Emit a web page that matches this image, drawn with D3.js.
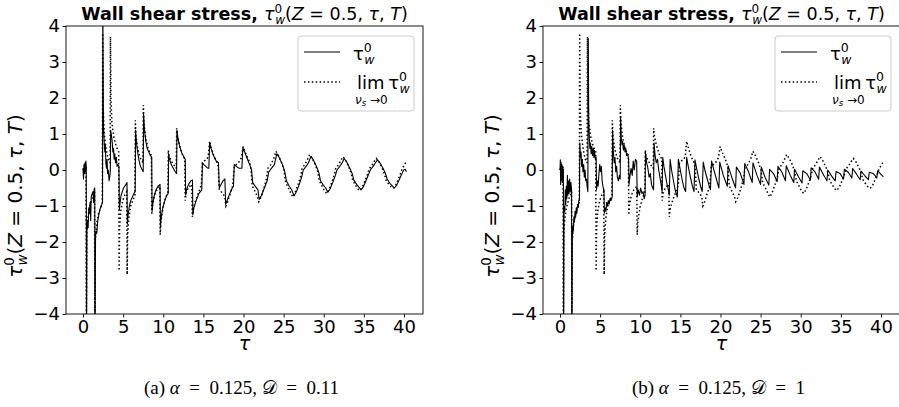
<!DOCTYPE html>
<html><head><meta charset="utf-8">
<script src="https://cdn.jsdelivr.net/npm/d3@7"></script>
<style>
body{margin:0;background:#fff}
</style></head><body>
<svg id="fig" width="899" height="407" font-family="DejaVu Sans, sans-serif"></svg>
<script>
// tick values
const tauTicks = [0, 5, 10, 15, 20, 25, 30, 35, 40];
const stressTicks = [-4, -3, -2, -1, 0, 1, 2, 3, 4];

// lim nu_s->0 tau_w^0 (same curve in both panels), [tau, value]
const limitSeries = [
  [0.00,0.00],[0.12,0.08],[0.25,-0.05],[0.38,0.10],[0.42,-4.6],
  [0.47,-1.75],[0.60,-1.35],[0.80,-1.05],[1.10,-0.8],[1.44,-0.6],[1.48,-4.6],
  [1.53,-1.95],[1.70,-1.5],[1.95,-1.2],[2.20,-1.05],[2.41,-0.95],[2.45,3.8],
  [2.52,1.7],[2.65,1.0],[2.90,0.55],[3.15,0.3],[3.38,0.2],[3.42,3.7],
  [3.48,2.0],[3.60,1.3],[3.85,0.9],[4.15,0.65],[4.45,0.5],[4.50,-2.8],
  [4.56,-1.6],[4.70,-1.15],[4.95,-0.85],[5.20,-0.7],[5.45,-0.6],[5.50,-2.9],
  [5.56,-1.8],[5.70,-1.35],[5.95,-1.0],[6.20,-0.85],[6.47,-0.7],[6.52,1.38],
  [6.60,0.95],[6.80,0.6],[7.10,0.35],[7.47,0.2],[7.52,1.8],
  [7.60,1.3],[7.80,0.9],[8.10,0.6],[8.52,0.4],[8.57,-1.25],
  [8.66,-0.95],[8.90,-0.7],[9.20,-0.55],[9.57,-0.45],[9.62,-1.8],
  [9.70,-1.45],[9.95,-1.05],[10.25,-0.8],[10.58,-0.6],[10.63,0.55],
  [10.72,0.4],[11.00,0.25],[11.30,0.15],[11.62,0.05],[11.67,1.16],
  [11.76,0.95],[12.00,0.7],[12.35,0.45],[12.68,0.3],[12.73,-0.85],
  [12.85,-0.65],[13.10,-0.5],[13.55,-0.4],[13.62,-1.3],
  [13.75,-1.05],[14.10,-0.8],[14.45,-0.6],[14.75,-0.4],[14.88,0.2],
  [15.10,0.25],[15.45,0.3],[15.62,0.4],[15.78,0.80],
  [15.95,0.65],[16.30,0.4],[16.70,0.2],[16.85,0.1],[16.98,-0.55],
  [17.20,-0.6],[17.55,-0.7],[17.70,-0.8],[17.80,-1.0],
  [18.00,-0.9],[18.35,-0.65],[18.65,-0.45],[18.85,0.1],
  [19.10,0.15],[19.55,0.25],[19.75,0.35],[19.95,0.65],
  [20.20,0.5],[20.60,0.3],[20.90,0.1],[21.10,-0.45],
  [21.45,-0.6],[21.75,-0.75],[21.90,-0.88],
  [22.20,-0.75],[22.55,-0.5],[22.85,-0.25],[23.05,0.05],
  [23.40,0.15],[23.75,0.3],[24.05,0.52],
  [24.35,0.4],[24.75,0.2],[25.05,0.0],[25.25,-0.35],
  [25.60,-0.5],[25.90,-0.65],[26.15,-0.75],
  [26.45,-0.62],[26.80,-0.4],[27.10,-0.2],[27.30,0.05],
  [27.65,0.15],[27.95,0.28],[28.25,0.43],
  [28.55,0.33],[28.95,0.15],[29.25,-0.05],[29.45,-0.3],
  [29.80,-0.45],[30.10,-0.58],[30.35,-0.65],
  [30.65,-0.55],[31.00,-0.35],[31.30,-0.15],[31.50,0.05],
  [31.85,0.15],[32.15,0.27],[32.40,0.37],
  [32.70,0.28],[33.10,0.1],[33.40,-0.08],[33.60,-0.28],
  [33.95,-0.42],[34.25,-0.52],[34.50,-0.57],
  [34.80,-0.48],[35.15,-0.3],[35.45,-0.12],[35.65,0.03],
  [36.00,0.13],[36.30,0.24],[36.55,0.32],
  [36.85,0.24],[37.25,0.07],[37.55,-0.1],[37.75,-0.27],
  [38.10,-0.39],[38.40,-0.47],[38.65,-0.51],
  [38.95,-0.43],[39.30,-0.25],[39.60,-0.08],[39.80,0.05],
  [40.10,0.15],[40.30,0.25]
];

// tau_w^0 for D = 0.11
const solidA = [
  [0.00,0.05],[0.06,-0.25],[0.12,0.15],[0.18,-0.1],[0.24,0.2],[0.30,-0.05],[0.36,0.25],[0.40,0.1],[0.44,-4.6],
  [0.49,-1.65],[0.58,-1.4],[0.64,-1.6],[0.72,-1.05],[0.80,-1.2],[0.88,-0.9],[0.96,-1.4],[1.02,-0.75],[1.15,-0.65],[1.25,-0.6],[1.32,-0.9],[1.38,-0.55],[1.46,-0.5],[1.50,-4.6],
  [1.56,-1.85],[1.65,-1.7],[1.72,-1.75],[1.82,-1.45],[1.95,-1.25],[2.10,-1.1],[2.25,-1.0],[2.35,-0.95],[2.43,-0.9],[2.47,4.6],
  [2.55,1.2],[2.65,0.75],[2.72,0.5],[2.78,0.7],[2.85,0.2],[2.92,0.05],[3.00,0.3],[3.06,-0.1],[3.15,0.0],[3.25,-0.3],[3.35,-0.15],[3.40,-0.05],[3.45,1.1],
  [3.55,0.95],[3.65,0.75],[3.72,0.5],[3.80,0.6],[3.88,0.3],[3.96,0.45],[4.05,0.2],[4.15,0.35],[4.25,0.1],[4.35,0.15],[4.48,0.1],[4.53,-1.1],
  [4.62,-0.9],[4.75,-0.7],[4.90,-0.6],[5.05,-0.5],[5.20,-0.45],[5.35,-0.4],[5.48,-0.35],[5.53,-1.5],
  [5.62,-1.25],[5.78,-1.0],[5.95,-0.85],[6.15,-0.75],[6.35,-0.65],[6.50,-0.6],[6.55,1.1],
  [6.65,0.8],[6.80,0.5],[6.95,0.3],[7.10,0.15],[7.25,0.05],[7.40,0.0],[7.50,-0.05],[7.55,1.55],
  [7.65,1.15],[7.82,0.8],[8.00,0.6],[8.20,0.5],[8.40,0.4],[8.56,0.35],[8.61,-1.15],
  [8.72,-0.9],[8.90,-0.7],[9.10,-0.55],[9.35,-0.45],[9.60,-0.4],[9.65,-1.6],
  [9.75,-1.3],[9.95,-1.05],[10.20,-0.85],[10.45,-0.7],[10.62,-0.65],[10.67,0.45],
  [10.78,0.3],[11.00,0.15],[11.25,0.05],[11.50,-0.05],[11.66,-0.1],[11.71,1.1],
  [11.82,0.9],[12.05,0.65],[12.35,0.45],[12.60,0.35],[12.74,0.3],[12.79,-0.7],
  [12.90,-0.55],[13.15,-0.4],[13.45,-0.3],[13.64,-0.28],[13.69,-1.25],
  [13.82,-1.05],[14.10,-0.85],[14.45,-0.65],[14.80,-0.55],[14.88,0.2],
  [15.05,0.15],[15.30,0.1],[15.55,0.05],[15.68,0.05],[15.78,0.75],
  [15.95,0.6],[16.25,0.4],[16.60,0.25],[16.88,0.2],[16.98,-0.5],
  [17.20,-0.4],[17.45,-0.3],[17.68,-0.25],[17.78,-0.95],
  [17.95,-0.85],[18.30,-0.65],[18.60,-0.5],[18.75,-0.45],[18.85,0.15],
  [19.10,0.1],[19.45,0.05],[19.80,0.05],[19.92,0.62],
  [20.15,0.5],[20.50,0.3],[20.85,0.1],[21.00,0.0],[21.15,-0.35],
  [21.45,-0.45],[21.80,-0.55],[21.95,-0.82],
  [22.25,-0.7],[22.60,-0.5],[22.95,-0.3],[23.15,-0.05],
  [23.50,0.05],[23.85,0.15],[24.15,0.45],
  [24.45,0.35],[24.85,0.15],[25.15,-0.05],[25.35,-0.3],
  [25.70,-0.45],[26.00,-0.55],[26.30,-0.72],
  [26.60,-0.6],[26.95,-0.4],[27.25,-0.2],[27.45,0.0],
  [27.80,0.1],[28.10,0.2],[28.40,0.38],
  [28.70,0.28],[29.10,0.1],[29.40,-0.08],[29.60,-0.3],
  [29.95,-0.42],[30.25,-0.5],[30.50,-0.62],
  [30.80,-0.52],[31.15,-0.33],[31.45,-0.15],[31.65,0.0],
  [32.00,0.1],[32.30,0.2],[32.55,0.32],
  [32.85,0.23],[33.25,0.05],[33.55,-0.1],[33.75,-0.28],
  [34.10,-0.4],[34.40,-0.48],[34.65,-0.55],
  [34.95,-0.46],[35.30,-0.28],[35.60,-0.12],[35.80,0.0],
  [36.15,0.1],[36.45,0.2],[36.70,0.28],
  [37.00,0.2],[37.40,0.04],[37.70,-0.1],[37.90,-0.25],
  [38.25,-0.37],[38.55,-0.44],[38.80,-0.5],
  [39.10,-0.42],[39.45,-0.25],[39.75,-0.1],[39.95,0.0],
  [40.15,0.02],[40.30,-0.05]
];

// tau_w^0 for D = 1
const solidB = [
  [0.00,0.0],[0.04,0.28],[0.08,-0.4],[0.13,0.22],[0.18,-0.3],[0.23,0.15],[0.28,-0.35],[0.33,0.1],[0.38,-0.2],[0.42,0.0],[0.45,-4.6],
  [0.50,-1.3],[0.55,-1.0],[0.60,-1.15],[0.66,-0.55],[0.72,-0.95],[0.78,-0.45],[0.85,-0.8],[0.92,-0.15],[0.98,-0.7],[1.05,-0.3],[1.12,-0.65],[1.20,-0.25],[1.28,-0.6],[1.36,-0.35],[1.44,-0.55],[1.48,-4.6],
  [1.53,-1.85],[1.60,-1.55],[1.66,-1.7],[1.73,-1.3],[1.80,-1.45],[1.88,-1.15],[1.95,-1.3],[2.03,-1.05],[2.10,-1.2],[2.18,-0.95],[2.26,-1.05],[2.34,-0.85],[2.42,-0.85],[2.47,0.75],
  [2.55,0.35],[2.62,0.5],[2.70,0.1],[2.78,0.3],[2.86,-0.05],[2.95,0.15],[3.03,-0.2],[3.12,0.0],[3.20,-0.3],[3.30,-0.25],[3.40,-0.5],[3.47,-0.6],[3.52,3.65],
  [3.58,1.4],[3.65,0.9],[3.72,0.6],[3.80,0.75],[3.88,0.45],[3.96,0.65],[4.05,0.4],[4.14,0.6],[4.22,0.35],[4.30,0.55],[4.40,0.3],[4.50,0.35],[4.55,-0.55],
  [4.65,-0.3],[4.75,-0.45],[4.85,-0.1],[4.95,0.15],[5.05,-0.05],[5.15,0.1],[5.25,-0.3],[5.35,-0.45],[5.48,-0.6],[5.53,-1.2],
  [5.62,-1.05],[5.72,-1.15],[5.82,-0.9],[5.92,-1.0],[6.02,-0.85],[6.12,-0.95],[6.22,-0.8],[6.35,-0.85],[6.50,-0.75],[6.55,1.1],
  [6.65,0.5],[6.75,0.2],[6.85,0.35],[6.95,-0.05],[7.05,0.1],[7.15,-0.2],[7.28,-0.3],[7.40,-0.15],[7.50,-0.25],[7.55,1.45],
  [7.63,0.9],[7.72,0.7],[7.80,0.8],[7.90,0.55],[8.00,0.7],[8.10,0.5],[8.20,0.6],[8.30,0.4],[8.42,0.45],[8.55,0.3],[8.60,-0.4],
  [8.70,-0.2],[8.85,0.05],[9.00,-0.15],[9.12,0.25],[9.25,0.0],[9.40,0.3],[9.55,0.25],[9.62,-0.75],
  [9.75,-0.55],[9.90,-0.7],[10.05,-0.5],[10.20,-0.65],[10.35,-0.6],[10.50,-0.8],[10.60,-0.7],[10.65,0.5],
  [10.80,0.2],[10.95,0.05],[11.10,-0.2],[11.25,-0.1],[11.40,-0.4],[11.55,-0.5],[11.66,-0.55],[11.72,0.75],
  [11.85,0.4],[12.00,0.2],[12.15,0.3],[12.30,0.0],[12.45,-0.2],[12.60,-0.4],[12.72,-0.6],[12.80,0.35],
  [12.95,0.1],[13.10,-0.1],[13.30,-0.35],[13.50,-0.55],[13.62,-0.7],[13.72,0.3],
  [13.90,0.0],[14.10,-0.25],[14.35,-0.55],[14.62,-0.75],[14.75,0.3],
  [14.95,0.05],[15.20,-0.25],[15.45,-0.5],[15.65,-0.6],[15.78,0.35],
  [15.98,0.1],[16.25,-0.2],[16.50,-0.45],[16.70,-0.6],[16.82,0.28],
  [17.02,0.05],[17.30,-0.25],[17.55,-0.48],[17.72,-0.6],[17.85,0.22],
  [18.05,0.0],[18.35,-0.25],[18.60,-0.45],[18.75,-0.55],[18.88,0.25],
  [19.30,-0.1],[19.80,-0.5],[19.91,0.22],
  [20.35,-0.15],[20.85,-0.45],[20.95,0.12],
  [21.40,-0.2],[21.88,-0.5],[21.98,0.08],
  [22.45,-0.08],[22.92,-0.4],[23.02,0.18],
  [23.50,-0.05],[23.95,-0.35],[24.05,0.2],
  [24.55,-0.15],[24.99,-0.4],[25.09,0.08],
  [25.55,-0.2],[26.02,-0.42],[26.12,0.02],
  [26.60,-0.1],[27.06,-0.32],[27.16,0.1],
  [27.65,-0.06],[28.09,-0.3],[28.19,0.12],
  [28.70,-0.15],[29.13,-0.35],[29.23,0.02],
  [29.70,-0.18],[30.16,-0.36],[30.26,-0.02],
  [30.75,-0.1],[31.20,-0.28],[31.30,0.06],
  [31.80,-0.06],[32.23,-0.26],[32.33,0.08],
  [32.85,-0.14],[33.27,-0.3],[33.37,0.0],
  [33.85,-0.17],[34.30,-0.3],[34.40,-0.04],
  [34.90,-0.1],[35.34,-0.25],[35.44,0.02],
  [35.95,-0.07],[36.37,-0.22],[36.47,0.04],
  [37.00,-0.13],[37.41,-0.27],[37.51,-0.03],
  [38.00,-0.16],[38.44,-0.27],[38.54,-0.06],
  [39.05,-0.1],[39.48,-0.22],[39.58,-0.02],
  [40.00,-0.12],[40.30,-0.19]
];

const panels = [
  {left: 66, tag: "(a)", dValue: "0.11", solid: solidA},
  {left: 543, tag: "(b)", dValue: "1", solid: solidB}
];

const W = 357, topY = 26, H = 288;
const svg = d3.select("#fig");

panels.forEach(function(p, i) {
  const x = d3.scaleLinear().domain([-2.12, 42.37]).range([0, W]);
  const y = d3.scaleLinear().domain([-4, 4]).range([H, 0]);
  const g = svg.append("g").attr("transform", `translate(${p.left},${topY})`);

  g.append("clipPath").attr("id", "clip" + i)
    .append("rect").attr("width", W).attr("height", H);

  const line = d3.line().x(d => x(d[0])).y(d => y(d[1]));
  const plot = g.append("g").attr("clip-path", `url(#clip${i})`);
  plot.append("path").datum(p.solid)
    .attr("d", line).attr("fill", "none")
    .attr("stroke", "#000").attr("stroke-width", 1.1)
    .attr("stroke-linejoin", "round");
  plot.append("path").datum(limitSeries)
    .attr("d", line).attr("fill", "none")
    .attr("stroke", "#000").attr("stroke-width", 1.5)
    .attr("stroke-dasharray", "1.5,2.4");

  // axes
  const xa = g.append("g").attr("transform", `translate(0,${H})`)
    .call(d3.axisBottom(x).tickValues(tauTicks).tickSize(3.5).tickPadding(3).tickFormat(d3.format("d")));
  const ya = g.append("g")
    .call(d3.axisLeft(y).tickValues(stressTicks).tickSize(3.5).tickPadding(2.5).tickFormat(d => d < 0 ? "\u2212" + (-d) : d));
  [xa, ya].forEach(a => {
    a.select(".domain").remove();
    a.selectAll("line").attr("stroke", "#000").attr("stroke-width", 0.9);
    a.selectAll("text").attr("font-family", "DejaVu Sans").attr("font-size", 18).attr("fill", "#000");
  });
  g.append("rect").attr("width", W).attr("height", H)
    .attr("fill", "none").attr("stroke", "#000").attr("stroke-width", 0.9);

  // title
  const t = g.append("text").attr("x", W / 2).attr("y", -6)
    .attr("text-anchor", "middle").attr("font-size", 17.5);
  t.append("tspan").attr("font-weight", "bold").text("Wall shear stress, ");
  t.append("tspan").attr("font-style", "italic").text("\u03c4");
  t.append("tspan").attr("font-size", 12).attr("dy", -7).text("0");
  t.append("tspan").attr("font-size", 12).attr("font-style", "italic").attr("dx", -7).attr("dy", 11).text("w");
  t.append("tspan").attr("dy", -4).text("(");
  t.append("tspan").attr("font-style", "italic").text("Z");
  t.append("tspan").text(" = 0.5, ");
  t.append("tspan").attr("font-style", "italic").text("\u03c4");
  t.append("tspan").text(", ");
  t.append("tspan").attr("font-style", "italic").text("T");
  t.append("tspan").text(")");

  // y label
  const yl = g.append("text").attr("transform", `translate(-44,${H / 2 + 26}) rotate(-90)`)
    .attr("text-anchor", "middle").attr("font-size", 20);
  yl.append("tspan").attr("font-style", "italic").text("\u03c4");
  yl.append("tspan").attr("font-size", 13.5).attr("dy", -8).text("0");
  yl.append("tspan").attr("font-size", 13.5).attr("font-style", "italic").attr("dx", -8.5).attr("dy", 12.5).text("w");
  yl.append("tspan").attr("dy", -4.5).text("(");
  yl.append("tspan").attr("font-style", "italic").text("Z");
  yl.append("tspan").text(" = 0.5, ");
  yl.append("tspan").attr("font-style", "italic").text("\u03c4");
  yl.append("tspan").text(", ");
  yl.append("tspan").attr("font-style", "italic").text("T");
  yl.append("tspan").text(")");

  // x label
  g.append("text").attr("x", W / 2).attr("y", H + 36)
    .attr("text-anchor", "middle").attr("font-size", 19).attr("font-style", "italic").text("\u03c4");

  // legend
  const lg = g.append("g").attr("transform", "translate(232,10)");
  lg.append("rect").attr("width", 116).attr("height", 75).attr("rx", 3)
    .attr("fill", "#fff").attr("fill-opacity", 0.8).attr("stroke", "#ccc");
  lg.append("line").attr("x1", 6).attr("x2", 42).attr("y1", 16).attr("y2", 16)
    .attr("stroke", "#000").attr("stroke-width", 1.1);
  lg.append("line").attr("x1", 6).attr("x2", 42).attr("y1", 46).attr("y2", 46)
    .attr("stroke", "#000").attr("stroke-width", 1.5).attr("stroke-dasharray", "1.5,2.4");
  const l1 = lg.append("text").attr("x", 55).attr("y", 24).attr("font-size", 18);
  l1.append("tspan").text("\u03c4");
  l1.append("tspan").attr("font-size", 12.5).attr("dy", -8).text("0");
  l1.append("tspan").attr("font-size", 12.5).attr("font-style", "italic").attr("dx", -7.5).attr("dy", 12).text("w");
  const l2 = lg.append("text").attr("x", 59).attr("y", 53).attr("font-size", 18);
  l2.append("tspan").text("lim\u2009\u03c4");
  l2.append("tspan").attr("font-size", 12.5).attr("dy", -8).text("0");
  l2.append("tspan").attr("font-size", 12.5).attr("font-style", "italic").attr("dx", -7.5).attr("dy", 12).text("w");
  const l3 = lg.append("text").attr("x", 57).attr("y", 68).attr("font-size", 12);
  l3.append("tspan").attr("font-style", "italic").text("\u03bd");
  l3.append("tspan").attr("font-size", 8.5).attr("font-style", "italic").attr("dy", 2).text("s");
  l3.append("tspan").attr("dy", -2).text(" \u21920");

  // caption
  const c = svg.append("text").attr("x", p.left + W / 2 - 3).attr("y", 394)
    .attr("text-anchor", "middle").attr("font-size", 19)
    .attr("font-family", "Liberation Serif, DejaVu Serif, serif");
  c.append("tspan").text(p.tag + " ");
  c.append("tspan").attr("font-style", "italic").text("\u03b1");
  c.append("tspan").text("\u2002=\u20020.125, ");
  c.append("tspan").text("\ud835\udc9f");
  c.append("tspan").text("\u2002=\u2002" + p.dValue);
});
</script>
</body></html>
